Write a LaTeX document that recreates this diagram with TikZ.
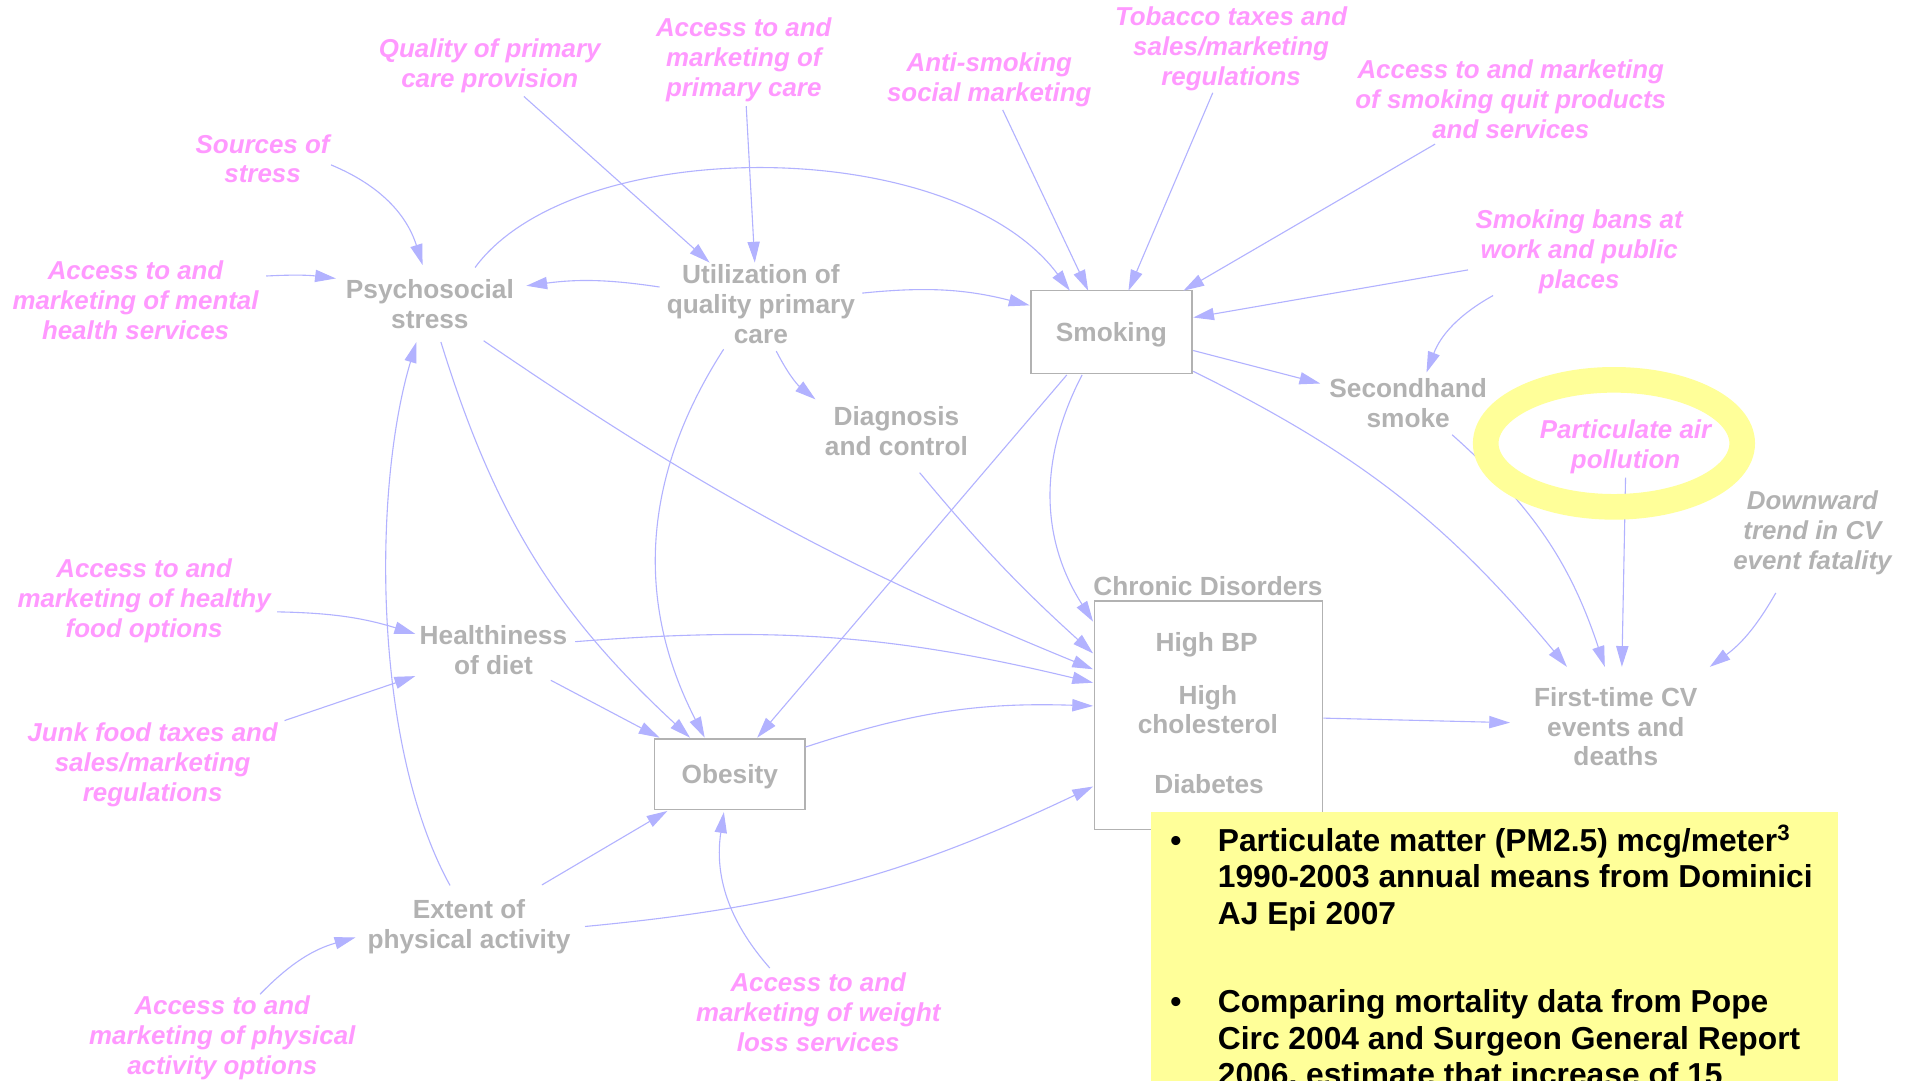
\documentclass[tikz,border=0pt]{standalone}
\usepackage{fontspec}
\setmainfont{Liberation Sans}
\usetikzlibrary{arrows.meta}
\definecolor{pinkc}{HTML}{FF99FF}
\definecolor{grayc}{HTML}{B2B2B2}
\definecolor{arrowc}{HTML}{B2B2FF}
\definecolor{yelc}{HTML}{FFFF99}
\definecolor{boxc}{HTML}{B2B2B2}
\tikzset{
  pinklbl/.style={font=\bfseries\itshape\fontsize{21.2}{24.5}\selectfont, text=pinkc, align=center, inner sep=2pt},
  graylbl/.style={font=\bfseries\fontsize{21.5}{24.5}\selectfont, text=grayc, align=center, inner sep=2pt},
  grayit/.style={font=\bfseries\itshape\fontsize{21.2}{24.5}\selectfont, text=grayc, align=center, inner sep=2pt},
  boxnode/.style={graylbl, draw=boxc, line width=1.2pt, rectangle, text depth=0pt},
  conn/.style={draw=arrowc, line width=0.9pt, -{Triangle[length=17pt,width=10pt]}},
  ring/.style={draw=yelc, line width=21pt},
  notebox/.style={fill=yelc, draw=none, rectangle, inner sep=0pt},
  notetxt/.style={font=\bfseries\fontsize{26}{30}\selectfont, text=black, align=left, inner sep=0pt},
}
\begin{document}
\begin{tikzpicture}[x=1pt,y=1pt]
\useasboundingbox (0,0) rectangle (1568,-885);
\fill[white] (0,0) rectangle (1568,-885);
\clip (0,0) rectangle (1568,-885);

% pink source labels
\node[pinklbl] (qual) at (401,-54) {Quality of primary\\care provision};
\node[pinklbl] (accp) at (609,-49) {Access to and\\marketing of\\primary care};
\node[pinklbl] (anti) at (810,-65) {Anti-smoking\\social marketing};
\node[pinklbl] (tob) at (1008,-40) {Tobacco taxes and\\sales/marketing\\regulations};
\node[pinklbl] (quit) at (1237,-81) {Access to and marketing\\of smoking quit products\\and services};
\node[pinklbl] (src) at (215,-130) {Sources of\\stress};
\node[pinklbl] (ment) at (111,-246) {Access to and\\marketing of mental\\health services};
\node[pinklbl] (bans) at (1293,-206) {Smoking bans at\\work and public\\places};
\node[pinklbl] (part) at (1331,-366) {Particulate air\\pollution};
\node[pinklbl] (food) at (118,-492) {Access to and\\marketing of healthy\\food options};
\node[pinklbl] (junk) at (125,-626) {Junk food taxes and\\sales/marketing\\regulations};
\node[pinklbl] (wt) at (670,-829) {Access to and\\marketing of weight\\loss services};
\node[pinklbl] (phys) at (182,-850) {Access to and\\marketing of physical\\activity options};
\node[grayit] (down) at (1484,-436) {Downward\\trend in CV\\event fatality};

% gray variables
\node[graylbl] (psy) at (352,-249) {Psychosocial\\stress};
\node[graylbl] (util) at (623,-249) {Utilization of\\quality primary\\care};
\node[boxnode, minimum width=132pt, minimum height=68pt] (smk) at (910,-272) {Smoking};
\node[graylbl] (sec) at (1153,-330) {Secondhand\\smoke};
\node[graylbl] (diag) at (734,-353) {Diagnosis\\and control};
\node[boxnode, minimum width=187pt, minimum height=187pt] (chr) at (989.5,-585.5) {};
\node[graylbl] (chlab) at (989,-480) {Chronic Disorders};
\node[graylbl] (chbp) at (988,-528) {High BP};
\node[graylbl] (chchol) at (989,-581) {High\\cholesterol};
\node[graylbl] (chdia) at (990,-642) {Diabetes};
\node[graylbl] (first) at (1323,-595) {First-time CV\\events and\\deaths};
\node[graylbl] (diet) at (404,-532) {Healthiness\\of diet};
\node[boxnode, minimum width=123pt, minimum height=58pt] (obe) at (597.5,-634) {Obesity};
\node[graylbl] (ext) at (384,-759) {Extent of\\physical activity};

% connectors
\draw[conn] ([shift={(56,-5)}]src.center) to[bend left=25] ([shift={(-6,32)}]psy.center);
\draw[conn] ([shift={(107,20)}]ment.center) to[bend left=5] ([shift={(-77,21)}]psy.center);
\draw[conn] ([shift={(-83,14)}]util.center) to[bend right=8] ([shift={(79,15)}]psy.center);
\draw[conn] ([shift={(28,-25)}]qual.center) -- ([shift={(-42,34)}]util.center);
\draw[conn] ([shift={(2,-38)}]accp.center) -- ([shift={(-5,34)}]util.center);
\draw[conn] ([shift={(37,30)}]psy.center) .. controls (470,-109) and (780,-109) .. ([shift={(-34,34)}]smk.center);
\draw[conn] ([shift={(83,9)}]util.center) to[bend left=10] ([shift={(-67,22)}]smk.center);
\draw[conn] ([shift={(11,-25)}]anti.center) -- ([shift={(-19,34)}]smk.center);
\draw[conn] ([shift={(-15,-36)}]tob.center) -- ([shift={(14,34)}]smk.center);
\draw[conn] ([shift={(-62,-37)}]quit.center) -- ([shift={(59,34)}]smk.center);
\draw[conn] ([shift={(-91,-15)}]bans.center) -- ([shift={(67,12)}]smk.center);
\draw[conn] ([shift={(-70.5,-36)}]bans.center) to[bend right=20] ([shift={(15,25)}]sec.center);
\draw[conn] ([shift={(67,-15)}]smk.center) -- ([shift={(-72,16)}]sec.center);
\draw[conn] ([shift={(67,-32)}]smk.center) to[bend left=12] ([shift={(-40,49)}]first.center);
\draw[conn] ([shift={(-36.5,-35)}]smk.center) -- ([shift={(22.5,30)}]obe.center);
\draw[conn] ([shift={(-24,-35)}]smk.center) to[bend right=30] ([shift={(-94.5,76.5)}]chr.center);
\draw[conn] ([shift={(9,-31)}]psy.center) to[bend right=15] ([shift={(-32.5,30)}]obe.center);
\draw[conn] ([shift={(44,-30)}]psy.center) to[bend right=6] ([shift={(-94.5,37.5)}]chr.center);
\draw[conn] ([shift={(-30.5,-37)}]util.center) to[bend right=30] ([shift={(-20.5,30)}]obe.center);
\draw[conn] ([shift={(12.6,-38.5)}]util.center) to[bend right=12] ([shift={(-66.3,26)}]diag.center);
\draw[conn] ([shift={(19,-34)}]diag.center) to[bend right=4] ([shift={(-94.5,50.5)}]chr.center);
\draw[conn] ([shift={(67,6.6)}]diet.center) to[bend left=9] ([shift={(-94.5,26.5)}]chr.center);
\draw[conn] ([shift={(47,-25)}]diet.center) -- ([shift={(-57.5,30)}]obe.center);
\draw[conn] ([shift={(109,-9)}]food.center) to[bend left=8] ([shift={(-64,13)}]diet.center);
\draw[conn] ([shift={(108,36)}]junk.center) -- ([shift={(-64,-21.6)}]diet.center);
\draw[conn] ([shift={(-15.5,34)}]ext.center) .. controls (305,-610) and (305,-400) .. ([shift={(-11,-31)}]psy.center);
\draw[conn] ([shift={(59.7,34.4)}]ext.center) -- ([shift={(-51,-30)}]obe.center);
\draw[conn] ([shift={(95,0.4)}]ext.center) to[bend right=10] ([shift={(-94.5,-58.5)}]chr.center);
\draw[conn] ([shift={(31,36)}]phys.center) to[bend left=15] ([shift={(-93,-8.6)}]ext.center);
\draw[conn] ([shift={(-39.7,36.4)}]wt.center) to[bend left=25] ([shift={(-4.8,-31)}]obe.center);
\draw[conn] ([shift={(62,22.3)}]obe.center) to[bend left=10] ([shift={(-94.5,7.5)}]chr.center);
\draw[conn] ([shift={(94,-2.5)}]chr.center) -- ([shift={(-86.6,3.3)}]first.center);
\draw[conn] ([shift={(36,-26)}]sec.center) to[bend left=15] ([shift={(-9,49)}]first.center);
\draw[conn] ([shift={(0,-25)}]part.center) -- ([shift={(5,49)}]first.center);
\draw[conn] ([shift={(-30,-49.5)}]down.center) to[bend left=12] ([shift={(77,49)}]first.center);

% highlight ring around particulate air pollution
\draw[ring] ([shift={(-9.5,3)}]part.center) ellipse [x radius=105, y radius=52];

% note box
\node[notebox, anchor=north west, minimum width=563pt, minimum height=240pt] (note) at (942,-665) {};
\node[notetxt, anchor=base west] (b1) at (958,-697) {\textbullet};
\node[notetxt, anchor=base west] (n1) at (997,-757) {Particulate matter (PM2.5) mcg/meter\textsuperscript{3}\\1990-2003 annual means from Dominici\\AJ Epi 2007};
\node[notetxt, anchor=base west] (b2) at (958,-829) {\textbullet};
\node[notetxt, anchor=base west] (n2) at (997,-889) {Comparing mortality data from Pope\\Circ 2004 and Surgeon General Report\\2006, estimate that increase of 15};
\end{tikzpicture}
\end{document}
